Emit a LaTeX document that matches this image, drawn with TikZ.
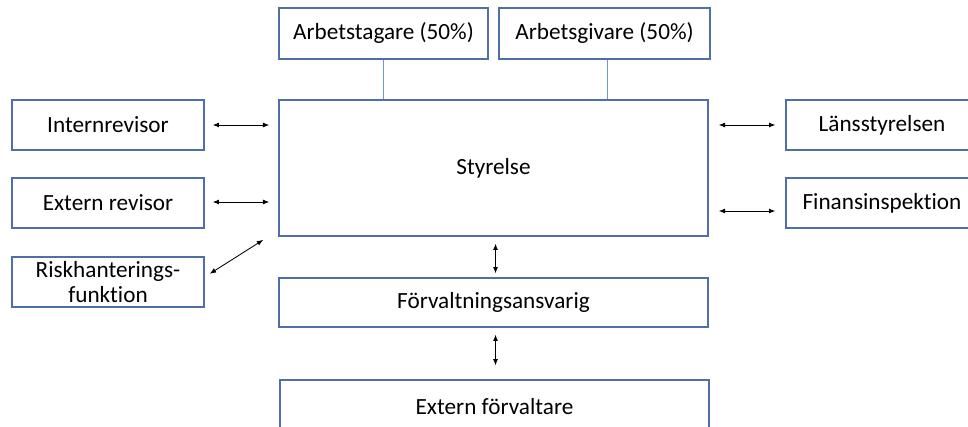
\documentclass[tikz,border=0pt]{standalone}
\usepackage{fontspec}
\setmainfont{Carlito}[Ligatures=NoCommon]
\usepackage{xcolor}
\usetikzlibrary{arrows.meta, positioning}
\definecolor{boxblue}{HTML}{4F6FA8}
\definecolor{linkblue}{HTML}{7096D6}
\tikzset{
  orgbox/.style={draw=boxblue, line width=0.9pt, fill=white, font=\fontsize{16.5}{18}\selectfont,
    inner sep=0pt, align=center},
  twoway/.style={{Latex[length=4.5pt,width=3.5pt]}-{Latex[length=4.5pt,width=3.5pt]}, line width=0.6pt, black},
  owner/.style={draw=linkblue, line width=0.7pt}
}

\begin{document}
\begin{tikzpicture}[x=0.025cm, y=-0.025cm]
\useasboundingbox (0,0) rectangle (968,427);
% Owners
\node[orgbox, minimum width=5.225cm, minimum height=1.275cm] (arbtag) at (383.5,33.5) {Arbetstagare (50\%)};
\node[orgbox, minimum width=5.275cm, minimum height=1.275cm] (arbgiv) at (604.5,33.5) {Arbetsgivare (50\%)};
% Board
\node[orgbox, minimum width=10.725cm, minimum height=3.4cm] (styr) at (493.5,168) {Styrelse};
% Left side
\node[orgbox, minimum width=4.8cm, minimum height=1.25cm] (intrev) at (108,125) {Internrevisor};
\node[orgbox, minimum width=4.8cm, minimum height=1.25cm] (extrev) at (108,203) {Extern revisor};
\node[orgbox, minimum width=4.8cm, minimum height=1.25cm] (risk) at (108,282) {Riskhanterings-\\funktion};
% Right side
\node[orgbox, minimum width=4.8cm, minimum height=1.25cm] (lans) at (882,125) {Länsstyrelsen};
\node[orgbox, minimum width=4.8cm, minimum height=1.25cm] (fi) at (882,203) {Finansinspektion};
% Management
\node[orgbox, minimum width=10.725cm, minimum height=1.225cm] (forv) at (493.5,302.5) {Förvaltningsansvarig};
\node[orgbox, minimum width=10.725cm, minimum height=1.35cm] (extforv) at (494.5,407) {Extern förvaltare};
% Owner lines
\draw[owner] (arbtag.south) -- (arbtag.south |- styr.north);
\draw[owner] ([xshift=0.075cm]arbgiv.south) -- ([xshift=0.075cm]arbgiv.south |- styr.north);
% Two-way arrows
\draw[twoway, shorten <=0.2cm, shorten >=0.225cm] (intrev.east) -- (intrev.east -| styr.west);
\draw[twoway, shorten <=0.2cm, shorten >=0.225cm] ([yshift=0.025cm]extrev.east) -- ([yshift=0.025cm]extrev.east -| styr.west);
\draw[twoway, shorten <=0.15cm, shorten >=0.15cm] ([yshift=0.125cm]risk.east) -- ([xshift=-0.25cm]styr.south west);
\draw[twoway, shorten <=0.25cm, shorten >=0.25cm] (styr.east |- lans.west) -- (lans.west);
\draw[twoway, shorten <=0.25cm, shorten >=0.25cm] ([yshift=-0.2cm]styr.east |- fi.west) -- ([yshift=-0.2cm]fi.west);
\draw[twoway, shorten <=0.175cm, shorten >=0.1cm] ([xshift=0.05cm]styr.south) -- ([xshift=0.05cm]styr.south |- forv.north);
\draw[twoway, shorten <=0.175cm, shorten >=0.35cm] ([xshift=0.05cm]forv.south) -- ([xshift=0.05cm]forv.south |- extforv.north);
\end{tikzpicture}
\end{document}
